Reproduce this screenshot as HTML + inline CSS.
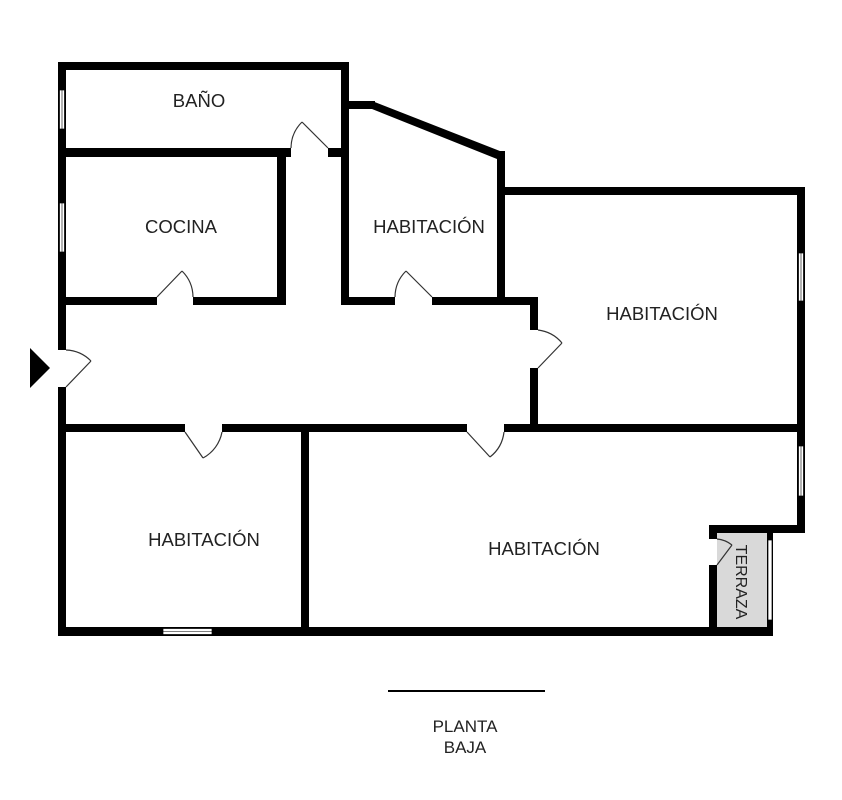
<!DOCTYPE html>
<html><head><meta charset="utf-8"><style>body{margin:0;background:#fff}svg{display:block}text{font-family:"Liberation Sans",sans-serif;fill:#222}</style></head><body>
<svg width="842" height="800" viewBox="0 0 842 800" xmlns="http://www.w3.org/2000/svg">
<rect x="717" y="533" width="50" height="94" fill="#d9d9d9"/>
<g fill="#000">
<rect x="58" y="62" width="8" height="288"/>
<rect x="58" y="387" width="8" height="249"/>
<rect x="58" y="62" width="291" height="8"/>
<rect x="341" y="62" width="8" height="243"/>
<rect x="58" y="148" width="233" height="9"/>
<rect x="328" y="148" width="13" height="9"/>
<rect x="277" y="148" width="9" height="157"/>
<rect x="58" y="297" width="99" height="8"/>
<rect x="193" y="297" width="93" height="8"/>
<rect x="341" y="101" width="34" height="8"/>
<polygon points="372,101 505,153 502,161 372,109"/>
<rect x="497" y="151" width="8" height="154"/>
<rect x="341" y="297" width="54" height="8"/>
<rect x="432" y="297" width="106" height="8"/>
<rect x="505" y="187" width="300" height="8"/>
<rect x="797" y="187" width="8" height="346"/>
<rect x="530" y="297" width="8" height="33"/>
<rect x="530" y="368" width="8" height="64"/>
<rect x="58" y="424" width="127" height="8"/>
<rect x="222" y="424" width="245" height="8"/>
<rect x="504" y="424" width="301" height="8"/>
<rect x="301" y="424" width="8" height="212"/>
<rect x="58" y="627" width="715" height="9"/>
<rect x="709" y="525" width="96" height="8"/>
<rect x="709" y="525" width="8" height="14"/>
<rect x="709" y="565" width="8" height="71"/>
<rect x="767" y="533" width="6" height="103"/>
<polygon points="30,348 50,368 30,388"/>
</g>
<g fill="#fff" stroke="#000" stroke-width="0.7">
<rect x="59.5" y="90" width="5" height="39"/>
<rect x="59.5" y="203" width="5" height="49"/>
<rect x="798.5" y="253" width="5" height="48"/>
<rect x="798.5" y="446" width="5" height="50"/>
<rect x="163" y="628.5" width="49" height="6"/>
<rect x="768" y="540" width="4" height="80"/>
</g>
<g stroke="#000" stroke-width="0.6">
<line x1="62" y1="90" x2="62" y2="129"/>
<line x1="62" y1="203" x2="62" y2="252"/>
<line x1="801" y1="253" x2="801" y2="301"/>
<line x1="801" y1="446" x2="801" y2="496"/>
<line x1="163" y1="631.5" x2="212" y2="631.5"/>
</g>
<g fill="none" stroke="#333" stroke-width="1.2">
<path d="M328,148 L302,122 M291,148 A37,37 0 0 1 302,122"/>
<path d="M157,297 L182,271 M193,297 A37,37 0 0 0 182,271"/>
<path d="M432,297 L406,271 M395,297 A37,37 0 0 1 406,271"/>
<path d="M538,368 L562,343 M538,330 A37,37 0 0 1 562,343"/>
<path d="M66,387 L91,361 M66,350 A37,37 0 0 1 91,361"/>
<path d="M185,432 L203,458 M222,432 A37,37 0 0 1 203,458"/>
<path d="M467,432 L490,457 M504,432 A37,37 0 0 1 490,457"/>
<path d="M717,565 L732,545 M717,539 A28,28 0 0 1 732,545"/>
</g>
<g font-size="18.5" text-anchor="middle">
<text x="199" y="107">BAÑO</text>
<text x="181" y="233">COCINA</text>
<text x="429" y="233">HABITACIÓN</text>
<text x="662" y="320">HABITACIÓN</text>
<text x="204" y="546">HABITACIÓN</text>
<text x="544" y="555">HABITACIÓN</text>
<text x="465" y="732" font-size="17">PLANTA</text>
<text x="465" y="753" font-size="17">BAJA</text>
<text x="0" y="0" font-size="16" transform="translate(736,582) rotate(90)">TERRAZA</text>
</g>
<line x1="388" y1="691" x2="545" y2="691" stroke="#000" stroke-width="2"/>
</svg>
</body></html>
